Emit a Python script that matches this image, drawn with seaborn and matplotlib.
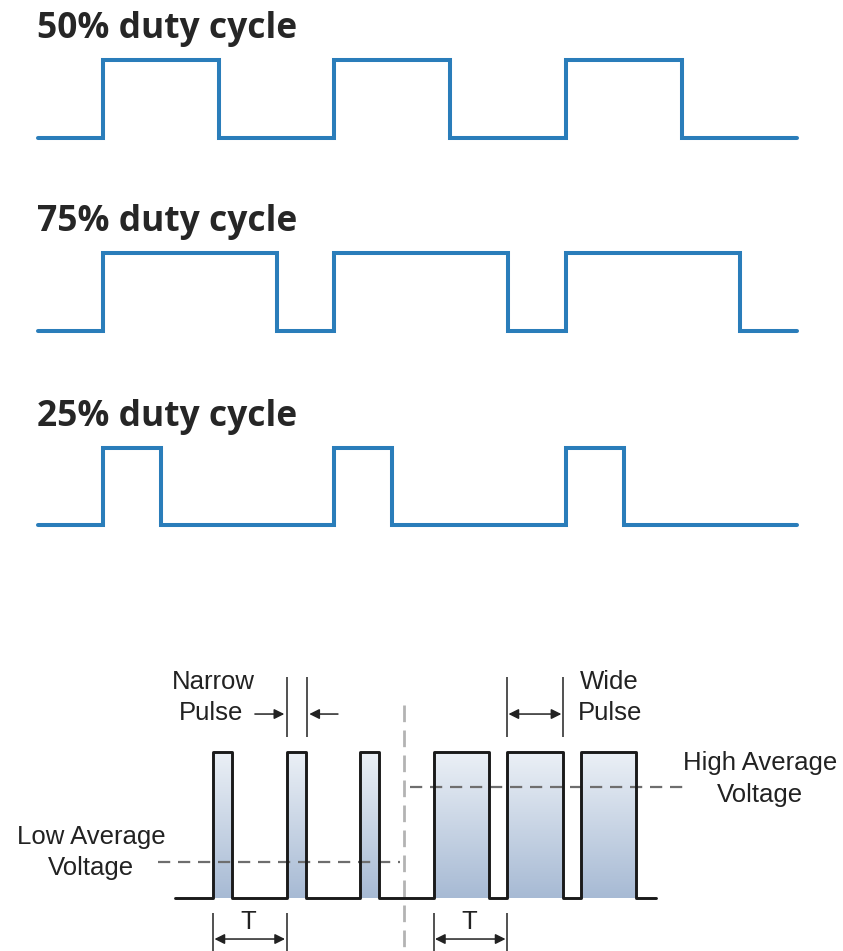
import numpy as np
import pandas as pd
import matplotlib
matplotlib.use("Agg")
import matplotlib.pyplot as plt
import seaborn as sns
from matplotlib.colors import LinearSegmentedColormap

# ---------------- data ----------------
duty_titles = ["50% duty cycle", "75% duty cycle", "25% duty cycle"]
duty_cycles = [0.50, 0.75, 0.25]
cycle_starts = [0, 1, 2]          # rising edges, in periods
wave_t_start = -0.28
wave_t_end = 3.0

pwm_narrow_starts = [0, 1, 2]     # in periods T
pwm_narrow_width = 0.26
pwm_wide_starts = [3, 4, 5]
pwm_wide_width = 0.76
pwm_t_start = -0.52
pwm_t_end = 6.03
low_avg = 0.25
high_avg = 0.76


def step_wave(starts, width, t0, t1):
    t, v = [t0], [0]
    for s in starts:
        t += [s, s, s + width, s + width]
        v += [0, 1, 1, 0]
    t.append(t1)
    v.append(0)
    return pd.DataFrame({"t": t, "v": v})


sns.set_theme(style="white")
plt.rcParams["font.family"] = ["Liberation Sans", "DejaVu Sans"]

W, H = 843, 951
fig = plt.figure(figsize=(W / 100, H / 100), dpi=100)
fig.patch.set_facecolor("white")

BLUE = "#2a7dba"
TITLE_C = "#262626"

# ---------------- top: three duty-cycle waves ----------------
period_px = 231.5
x0_px = 103
levels_px = [(60, 138), (253, 331), (448, 525)]
pad = 15
for k, (title, d) in enumerate(zip(duty_titles, duty_cycles)):
    hi, lo = levels_px[k]
    hpx = lo - hi
    ax = fig.add_axes([0, 1 - (lo + pad) / H, 1, (hpx + 2 * pad) / H])
    df = step_wave(cycle_starts, d, wave_t_start, wave_t_end)
    sns.lineplot(data=df, x="t", y="v", sort=False, estimator=None,
                 color=BLUE, lw=2.9, ax=ax, solid_joinstyle="miter")
    ax.set_xlim(-x0_px / period_px, (W - x0_px) / period_px)
    ax.set_ylim(-pad / hpx, 1 + pad / hpx)
    ax.axis("off")
    fig.text(37 / W, 1 - (hi - 22) / H, title, ha="left", va="baseline",
             fontsize=25.5, fontweight="bold", color=TITLE_C,
             family=["Open Sans", "DejaVu Sans"])

# ---------------- bottom: PWM diagram ----------------
T_px = 73.5
t0_px = 213
base_px = 898
amp_px = 146
top_px = 640
ax = fig.add_axes([0, 0, 1, (H - top_px) / H])
ax.set_xlim(-t0_px / T_px, (W - t0_px) / T_px)
ax.set_ylim((base_px - H) / amp_px, (base_px - top_px) / amp_px)
ax.axis("off")

grad_cmap = LinearSegmentedColormap.from_list("g", ["#a7bad4", "#ebf0f6"])
grad = np.linspace(0, 1, 256).reshape(-1, 1)
for starts, w in [(pwm_narrow_starts, pwm_narrow_width),
                  (pwm_wide_starts, pwm_wide_width)]:
    for s in starts:
        ax.imshow(grad, extent=[s, s + w, 0, 1], origin="lower",
                  aspect="auto", cmap=grad_cmap, zorder=1,
                  interpolation="bilinear")

df_pwm = step_wave(pwm_narrow_starts, pwm_narrow_width, pwm_t_start, 2.6)
df_pwm2 = step_wave(pwm_wide_starts, pwm_wide_width, 2.6, pwm_t_end)
df_all = pd.concat([df_pwm, df_pwm2], ignore_index=True)
sns.lineplot(data=df_all, x="t", y="v", sort=False, estimator=None,
             color="#1a1a1a", lw=2.1, ax=ax, zorder=4)

# average voltage dashed lines
ax.plot([-0.75, 2.54], [low_avg, low_avg], color="#6e6e6e", lw=1.6,
        dashes=(5.5, 3.5), zorder=3)
ax.plot([2.68, 6.39], [high_avg, high_avg], color="#6e6e6e", lw=1.6,
        dashes=(5.5, 3.5), zorder=3)

# divider
ax.plot([2.6, 2.6], [1.32, ax.get_ylim()[0]], color="#b3b3b3", lw=2.0,
        dashes=(6, 3), zorder=2)

TXT = "#222222"
FS = 18.5
ann_lw = 1.1
MS = 15

# Narrow pulse annotation
n0 = pwm_narrow_starts[1]
n1 = n0 + pwm_narrow_width
ax.vlines([n0, n1 + 0.02], 1.103, 1.514, color="#222", lw=ann_lw)
ax.annotate("", xy=(n0 - 0.03, 1.26), xytext=(0.57, 1.26),
            arrowprops=dict(arrowstyle="-|>", color="#222", lw=ann_lw,
                            mutation_scale=MS, shrinkA=0, shrinkB=0))
ax.annotate("", xy=(n1 + 0.05, 1.26), xytext=(1.70, 1.26),
            arrowprops=dict(arrowstyle="-|>", color="#222", lw=ann_lw,
                            mutation_scale=MS, shrinkA=0, shrinkB=0))
ax.text(0.0, 1.479, "Narrow", ha="center", va="center", fontsize=FS, color=TXT)
ax.text(0.41, 1.267, "Pulse", ha="right", va="center", fontsize=FS, color=TXT)

# Wide pulse annotation
w0 = pwm_wide_starts[1]
w1 = w0 + pwm_wide_width
ax.vlines([w0, w1], 1.103, 1.514, color="#222", lw=ann_lw)
ax.annotate("", xy=(w1 - 0.02, 1.26), xytext=(w0 + 0.02, 1.26),
            arrowprops=dict(arrowstyle="<|-|>", color="#222", lw=ann_lw,
                            mutation_scale=MS, shrinkA=0, shrinkB=0))
ax.text(5.39, 1.479, "Wide", ha="center", va="center", fontsize=FS, color=TXT)
ax.text(5.40, 1.267, "Pulse", ha="center", va="center", fontsize=FS, color=TXT)

# Average voltage labels
ax.text(7.44, 0.925, "High Average", ha="center", va="center", fontsize=FS, color=TXT)
ax.text(7.44, 0.705, "Voltage", ha="center", va="center", fontsize=FS, color=TXT)
ax.text(-1.66, 0.418, "Low Average", ha="center", va="center", fontsize=FS, color=TXT)
ax.text(-1.66, 0.205, "Voltage", ha="center", va="center", fontsize=FS, color=TXT)

# Period markers
ybot = ax.get_ylim()[0]
for a, b in [(pwm_narrow_starts[0], pwm_narrow_starts[1]),
             (pwm_wide_starts[0], pwm_wide_starts[1])]:
    ax.vlines([a, b], ybot, -0.103, color="#222", lw=ann_lw)
    ax.annotate("", xy=(b - 0.02, -0.281), xytext=(a + 0.02, -0.281),
                arrowprops=dict(arrowstyle="<|-|>", color="#222", lw=ann_lw,
                                mutation_scale=MS, shrinkA=0, shrinkB=0))
    ax.text((a + b) / 2 - 0.02, -0.164, "T", ha="center", va="center",
            fontsize=FS, color=TXT)

fig.savefig("out.png", dpi=100, facecolor="white")
